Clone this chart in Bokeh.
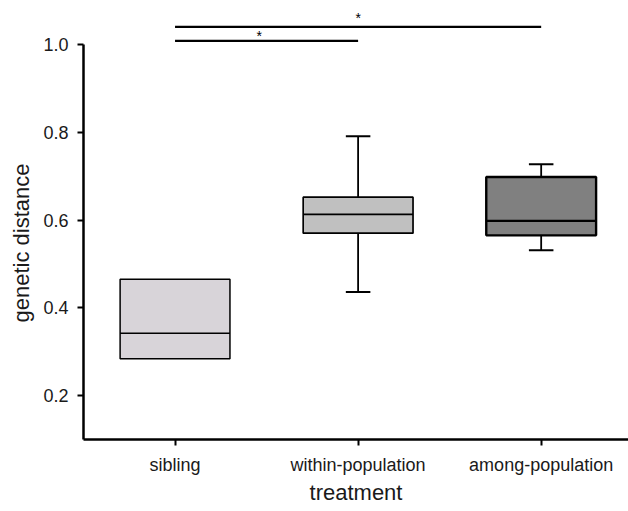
import numpy as np
from bokeh.plotting import figure
from bokeh.models import ColumnDataSource, FixedTicker, Title, Range1d
from bokeh.embed import file_html
from bokeh.resources import INLINE
from bokeh.core.properties import value

# ---- data ----
categories = ["sibling", "within-population", "among-population"]
q1 = [0.284, 0.570, 0.565]
median = [0.342, 0.613, 0.598]
q3 = [0.465, 0.652, 0.698]
whisker_low = [np.nan, 0.436, 0.531]
whisker_high = [np.nan, 0.791, 0.727]
fill_colors = ["#d8d4d9", "#c0c0c0", "#808080"]
y_ticks = [0.2, 0.4, 0.6, 0.8, 1.0]

# significance bars (category index pairs)
sig_from = [0, 0]
sig_to = [1, 2]
sig_y = [1.008, 1.040]
sig_star_x = [0.46, 1.0]
sig_star_y = [1.018, 1.060]
sig_text = ["*", "*"]

FONT = "Liberation Sans"
BOX_W = 0.6
CAP_W = 0.134

x = np.arange(len(categories), dtype=float)

p = figure(width=628, height=511,
           x_range=Range1d(-0.5, 2.477), y_range=Range1d(0.1, 1.1),
           output_backend="svg", toolbar_location=None,
           min_border_left=83, min_border_right=0,
           min_border_top=0, min_border_bottom=72)
p.outline_line_color = None
p.grid.visible = False
p.background_fill_color = "white"
p.border_fill_color = "white"

# axes
for ax in (p.xaxis[0], p.yaxis[0]):
    ax.axis_line_width = 2.5
    ax.axis_line_color = "black"
    ax.major_tick_line_width = 2
    ax.major_tick_line_color = "black"
    ax.major_tick_out = 6
    ax.major_tick_in = 0
    ax.minor_tick_line_color = None
    ax.major_label_text_font = FONT
    ax.major_label_text_font_size = "18px"
    ax.major_label_text_color = "#1a1a1a"

p.xaxis.major_label_standoff = 9
p.yaxis.major_label_standoff = 9

p.yaxis.ticker = FixedTicker(ticks=y_ticks)
p.yaxis.bounds = (0.1, 1.0)
p.yaxis.major_label_overrides = {t: f"{t:.1f}" for t in y_ticks}

p.xaxis.ticker = FixedTicker(ticks=list(x))
p.xaxis.major_label_overrides = {float(i): c for i, c in enumerate(categories)}
p.xaxis.axis_label = "treatment"
p.xaxis.axis_label_text_font = FONT
p.xaxis.axis_label_text_font_size = "22px"
p.xaxis.axis_label_text_font_style = "normal"
p.xaxis.axis_label_text_color = "#1a1a1a"
p.xaxis.axis_label_standoff = 2

p.add_layout(Title(text="genetic distance", align="left", offset=117,
                   text_font=FONT, text_font_size="22px",
                   text_font_style="normal", text_color="#1a1a1a",
                   standoff=13), "left")

src = ColumnDataSource(dict(
    x=x, left=x - BOX_W / 2, right=x + BOX_W / 2,
    cl=x - CAP_W / 2, cr=x + CAP_W / 2,
    q1=q1, q3=q3, med=median, lo=whisker_low, hi=whisker_high,
    color=fill_colors, lw=[1.5, 1.7, 2.4], mw=[1.7, 1.8, 2.2],
))

# whiskers + caps
p.segment(x0="x", x1="x", y0="q3", y1="hi", source=src, line_color="black", line_width=1.8)
p.segment(x0="x", x1="x", y0="q1", y1="lo", source=src, line_color="black", line_width=1.8)
p.segment(x0="cl", x1="cr", y0="hi", y1="hi", source=src, line_color="black", line_width=2)
p.segment(x0="cl", x1="cr", y0="lo", y1="lo", source=src, line_color="black", line_width=2)
# boxes
p.quad(left="left", right="right", bottom="q1", top="q3", source=src,
       fill_color="color", line_color="black", line_width="lw")
p.segment(x0="left", x1="right", y0="med", y1="med", source=src,
          line_color="black", line_width="mw")

# significance bars
sig_src = ColumnDataSource(dict(
    x0=sig_from, x1=sig_to, y=sig_y, sx=sig_star_x, sy=sig_star_y, t=sig_text,
))
p.segment(x0="x0", x1="x1", y0="y", y1="y", source=sig_src, line_color="black", line_width=2.2)
p.text(x="sx", y="sy", text="t", source=sig_src, text_align="center",
       text_baseline="middle", text_font=value(FONT), text_font_size="14px",
       text_color="black")

open("out.html", "w").write(file_html(p, INLINE))
